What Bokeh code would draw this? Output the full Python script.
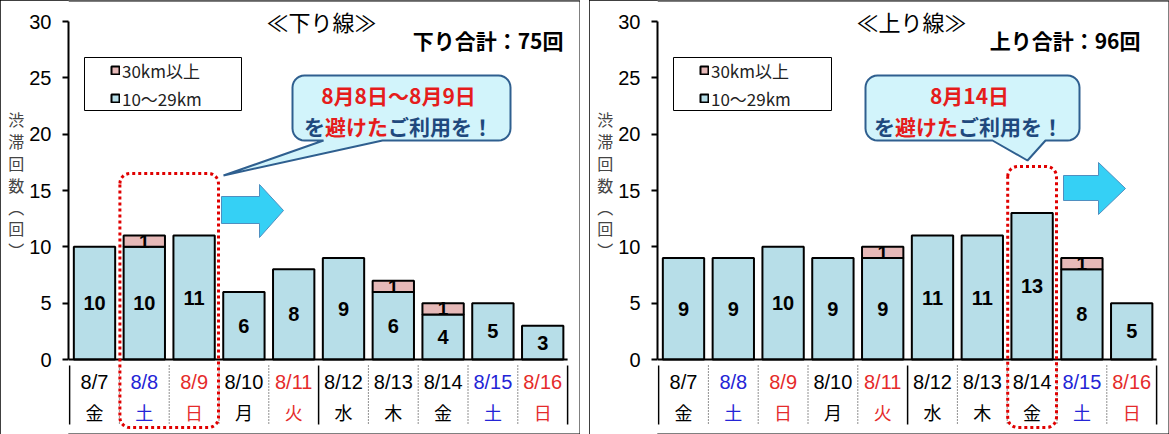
import numpy as np
from bokeh.plotting import figure
from bokeh.models import (ColumnDataSource, Range1d, LinearAxis, FixedTicker,
                          Legend, LegendItem, Spacer)
from bokeh.layouts import row
from bokeh.core.properties import value
from bokeh.embed import file_html
from bokeh.resources import INLINE

# ---------------- data ----------------
dates = ["8/7", "8/8", "8/9", "8/10", "8/11", "8/12", "8/13", "8/14", "8/15", "8/16"]
weekdays = ["金", "土", "日", "月", "火", "水", "木", "金", "土", "日"]
holidays = ["8/11"]
down_10_29 = [10, 10, 11, 6, 8, 9, 6, 4, 5, 3]
down_30plus = [0, 1, 0, 0, 0, 0, 1, 1, 0, 0]
up_10_29 = [9, 9, 10, 9, 9, 11, 11, 13, 8, 5]
up_30plus = [0, 0, 0, 0, 1, 0, 0, 0, 1, 0]
legend_labels = ["30km以上", "10～29km"]
y_ticks = [0, 5, 10, 15, 20, 25, 30]
y_title_chars = ["渋", "滞", "回", "数", "︵", "回", "︶"]
down_title = "≪下り線≫"
up_title = "≪上り線≫"
down_total_prefix = "下り合計："
up_total_prefix = "上り合計："
down_avoid = ["8/8", "8/9"]
up_avoid = ["8/14"]
down_callout = "8月8日～8月9日"
up_callout = "8月14日"
callout_runs = [("を", "blue"), ("避けた", "red"), ("ご利用を！", "blue")]

# ---------------- style ----------------
JP = "Noto Sans CJK JP"
NUM = "Liberation Sans"
BAR_BLUE = "#B7DEE8"
BAR_PINK = "#E6B9B8"
DAY_BLUE = "#2424D6"
DAY_RED = "#E52B2B"
CALL_RED = "#E51C1C"
CALL_BLUE = "#1F497D"
CALL_FILL = "#D2F4FB"
CALL_LINE = "#2F5F8F"
ARROW_FILL = "#35D0F5"
ARROW_LINE = "#4F8FC0"
RED_BOX = "#E00000"

W = 580
H = 434
Y0_PX, Y30_PX = 359.0, 21.0
SY = (Y0_PX - Y30_PX) / 30.0
STEP = 49.8
BAR_W = 0.83


def day_color(d, w):
    if w == "土":
        return DAY_BLUE
    if w == "日" or d in holidays:
        return DAY_RED
    return "black"


def rounded_rect(x0, y0, x1, y1, r, tail=None, n=8):
    pts = []

    def arc(cx, cy, a0, a1):
        for t in np.linspace(a0, a1, n):
            pts.append((cx + r * np.cos(t), cy + r * np.sin(t)))

    arc(x0 + r, y0 + r, np.pi, 1.5 * np.pi)
    arc(x1 - r, y0 + r, 1.5 * np.pi, 2 * np.pi)
    arc(x1 - r, y1 - r, 0.0, 0.5 * np.pi)
    if tail is not None:
        pts.extend(tail)
    arc(x0 + r, y1 - r, 0.5 * np.pi, np.pi)
    pts.append(pts[0])
    return pts


def make_panel(cfg):
    left, c0 = cfg["left"], cfg["c0"]
    X = lambda px: (px - c0) / STEP
    Y = lambda py: (Y0_PX - py) / SY

    p = figure(width=W, height=H, x_range=Range1d(X(left), X(W)),
               y_range=Range1d(Y(H), Y(0)), output_backend="svg",
               toolbar_location=None, x_axis_location=None, y_axis_location=None,
               min_border_left=left, min_border_right=0, min_border_top=0,
               min_border_bottom=0)
    p.outline_line_color = None
    p.background_fill_color = "white"
    p.border_fill_color = "white"
    p.grid.visible = False
    p.styles = {"outline": "1px solid black", "outline-offset": "-1px"}

    # y axis
    yax = LinearAxis(ticker=FixedTicker(ticks=y_ticks), bounds=(0, 30))
    yax.axis_line_width = 2
    yax.major_tick_line_width = 2
    yax.major_tick_in = 0
    yax.major_tick_out = 6
    yax.minor_tick_line_color = None
    yax.major_label_text_font = NUM
    yax.major_label_text_font_size = "20px"
    yax.major_label_text_color = "black"
    yax.major_label_standoff = 11
    yax.axis_label = "\n".join(y_title_chars + ["\u3000"] * 3)
    yax.axis_label_orientation = "horizontal"
    yax.axis_label_standoff = 2
    yax.axis_label_text_font = JP
    yax.axis_label_text_font_size = "16px"
    yax.axis_label_text_font_style = "normal"
    yax.axis_label_text_line_height = 0.91
    p.add_layout(yax, "left")

    # panel border inside the plotting frame (top, right, bottom)
    bpts = [(left, 0.5), (W - 0.5, 0.5), (W - 0.5, H - 0.5), (left, H - 0.5)]
    p.line(x=[X(a) for a, b in bpts], y=[Y(b) for a, b in bpts],
           line_color="black", line_width=1)

    base, over = cfg["base"], cfg["over"]
    n = len(dates)
    xs = list(range(n))
    src = ColumnDataSource(dict(
        x=xs, base=base, mid=[b / 2 for b in base], label=[str(b) for b in base],
        date=dates, wd=weekdays,
        color=[day_color(d, w) for d, w in zip(dates, weekdays)]))
    oi = [i for i in xs if over[i] > 0]
    osrc = ColumnDataSource(dict(
        x=oi, bottom=[base[i] for i in oi], top=[base[i] + over[i] for i in oi],
        mid=[base[i] + over[i] / 2 for i in oi], label=[str(over[i]) for i in oi]))

    r_base = p.vbar(x="x", bottom=0, top="base", width=BAR_W, source=src,
                    fill_color=BAR_BLUE, line_color="black", line_width=2)
    r_over = p.vbar(x="x", bottom="bottom", top="top", width=BAR_W, source=osrc,
                    fill_color=BAR_PINK, line_color="black", line_width=2)
    p.text(x="x", y="mid", text="label", source=src, text_font=value(NUM),
           text_font_style="bold", text_font_size="20px", text_align="center",
           text_baseline="middle", text_color="black")
    p.text(x="x", y="mid", text="label", source=osrc, text_font=value(NUM),
           text_font_style="bold", text_font_size="19px", text_align="center",
           text_baseline="middle", text_color="black")

    # x axis line
    p.segment(x0=[X(left)], y0=[0], x1=[n - 0.5], y1=[0], line_color="black",
              line_width=2)

    # category separators
    solid = [0, 5, n]
    sx_solid = [max(k - 0.5, X(left + 1)) for k in range(n + 1) if k in solid]
    sx_dot = [k - 0.5 for k in range(n + 1) if k not in solid]
    p.segment(x0=sx_solid, x1=sx_solid, y0=[Y(365)] * len(sx_solid),
              y1=[Y(424)] * len(sx_solid), line_color="black", line_width=1.5)
    p.segment(x0=sx_dot, x1=sx_dot, y0=[Y(365)] * len(sx_dot),
              y1=[Y(424)] * len(sx_dot), line_color="#222222", line_width=1,
              line_dash="1 2")

    # category labels
    p.text(x="x", y=Y(381), text="date", source=src, text_color="color",
           text_font=value(NUM), text_font_size="20px", text_align="center",
           text_baseline="middle")
    p.text(x="x", y=Y(411), text="wd", source=src, text_color="color",
           text_font=value(JP), text_font_size="18px", text_align="center",
           text_baseline="middle")

    # red dotted box around dates to avoid
    ai = [dates.index(d) for d in cfg["avoid"]]
    bx0 = (min(ai) - 0.49) * STEP + c0
    bx1 = (max(ai) + 0.49) * STEP + c0
    rb = rounded_rect(bx0, cfg["box_top"], bx1, 427, 10)
    p.line(x=[X(a) for a, b in rb], y=[Y(b) for a, b in rb],
           line_color=RED_BOX, line_width=3, line_dash="3 3")

    # cyan arrow
    ax0, ay0, ay1, hx, htop, hbot, tipx, tipy = cfg["arrow"]
    apts = [(ax0, ay0), (hx, ay0), (hx, htop), (tipx, tipy), (hx, hbot), (hx, ay1), (ax0, ay1)]
    p.patch(x=[X(a) for a, b in apts], y=[Y(b) for a, b in apts], fill_color=ARROW_FILL,
            line_color=ARROW_LINE, line_width=1)

    # callout
    cx0, cy0, cx1, cy1 = cfg["callout_box"]
    tr, tip, tl = cfg["tail"]
    cpts = rounded_rect(cx0, cy0, cx1, cy1, 12, tail=[(tr, cy1), tip, (tl, cy1)])
    p.patch(x=[X(a) for a, b in cpts], y=[Y(b) for a, b in cpts], fill_color=CALL_FILL,
            line_color=CALL_LINE, line_width=2)
    l1x, l2x = cfg["callout_cx"]
    p.text(x=[X(l1x)], y=[Y(94)], text=[cfg["callout"]], text_font=value(JP),
           text_font_style="bold", text_font_size="21px", text_color=CALL_RED,
           text_align="center", text_baseline="middle")
    fs = 21
    total_chars = sum(len(t) for t, c in callout_runs)
    sx = l2x - total_chars * fs / 2
    for t, c in callout_runs:
        p.text(x=[X(sx)], y=[Y(125)], text=[t], text_font=value(JP), text_font_style="bold",
               text_font_size="21px", text_color=CALL_RED if c == "red" else CALL_BLUE,
               text_align="left", text_baseline="middle")
        sx += len(t) * fs

    # titles
    p.text(x=[X(cfg["title_x"])], y=[Y(20)], text=[cfg["title"]], text_font=value(JP),
           text_font_size="22px", text_align="center", text_baseline="middle",
           text_color="black")
    total = sum(base) + sum(over)
    p.text(x=[X(cfg["total_x"])], y=[Y(39)], text=[f"{cfg['total_prefix']}{total}回"],
           text_font=value(JP), text_font_style="bold", text_font_size="21px",
           text_align="right", text_baseline="middle", text_color="black")

    # legend frame + legend
    lx0, lx1 = cfg["legend_box"]
    p.quad(left=[X(lx0)], right=[X(lx1)], top=[Y(57)], bottom=[Y(110)],
           fill_color="white", line_color="black", line_width=1)
    leg = Legend(items=[LegendItem(label=legend_labels[0], renderers=[r_over]),
                        LegendItem(label=legend_labels[1], renderers=[r_base])],
                 location=(110 - left, H - 112), padding=0, margin=0, spacing=0,
                 glyph_width=10, glyph_height=10, label_height=28, label_standoff=2,
                 label_text_font=JP, label_text_font_size="17px",
                 label_text_color="#222222", border_line_color=None,
                 background_fill_alpha=0)
    p.add_layout(leg, "center")
    return p


down_cfg = dict(left=68, c0=94, base=down_10_29, over=down_30plus,
                avoid=down_avoid, box_top=173,
                arrow=(221, 196, 223, 259, 184, 237, 283, 210),
                callout_box=(292, 75, 510, 140), tail=(382, (223, 175), 323),
                callout_cx=(398, 398), callout=down_callout,
                title=down_title, title_x=321, total_prefix=down_total_prefix,
                total_x=563, legend_box=(84, 241))
up_cfg = dict(left=68, c0=94, base=up_10_29, over=up_30plus,
              avoid=up_avoid, box_top=166,
              arrow=(474, 175, 200, 509, 162, 214, 536, 188),
              callout_box=(276, 75, 490, 140), tail=(456, (438, 160), 403),
              callout_cx=(380, 379), callout=up_callout,
              title=up_title, title_x=322, total_prefix=up_total_prefix,
              total_x=551, legend_box=(84, 242))

p1 = make_panel(down_cfg)
p2 = make_panel(up_cfg)
layout = row(p1, Spacer(width=9, height=H), p2)
open("out.html", "w").write(file_html(layout, INLINE))
